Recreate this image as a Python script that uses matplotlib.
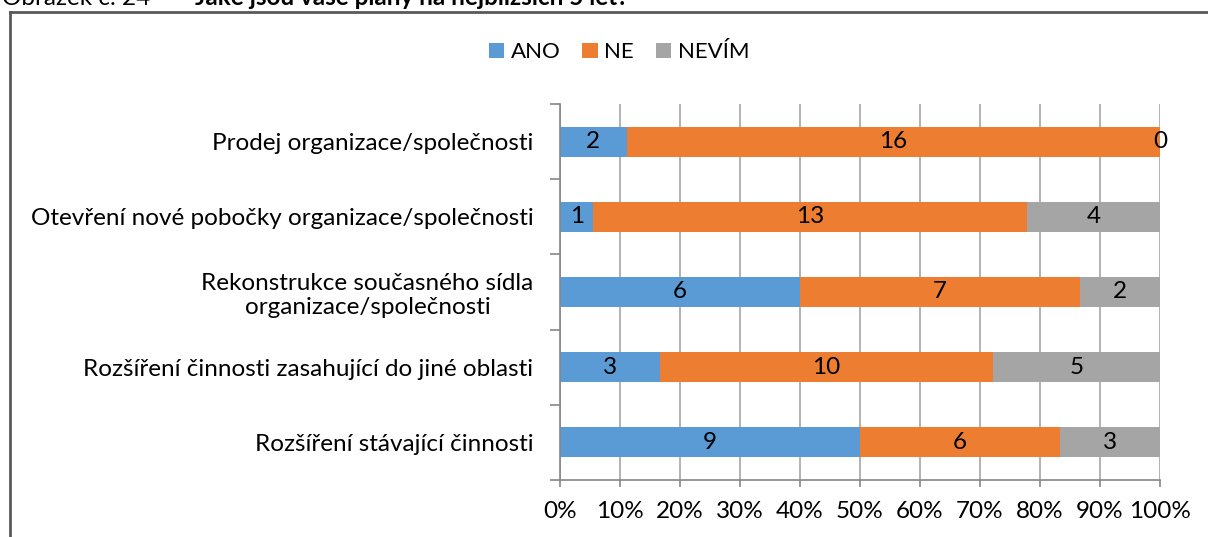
import numpy as np
import matplotlib.pyplot as plt
from matplotlib.lines import Line2D
from matplotlib.patches import Patch

plt.rcParams['font.family'] = ['Lato', 'DejaVu Sans']

kategorie = ["Prodej organizace/společnosti",
             "Otevření nové pobočky organizace/společnosti",
             "Rekonstrukce současného sídla\norganizace/společnosti",
             "Rozšíření činnosti zasahující do jiné oblasti",
             "Rozšíření stávající činnosti"]
ano = [2, 1, 6, 3, 9]
ne = [16, 13, 7, 10, 6]
nevim = [0, 4, 2, 5, 3]
serie = ["ANO", "NE", "NEVÍM"]
barvy = ["#5B9BD5", "#ED7D31", "#A5A5A5"]

W, H = 1208, 537
FS = 17.5
fig = plt.figure(figsize=(W / 100, H / 100), dpi=100)
ax = fig.add_axes([560 / W, 1 - 480 / H, 600 / W, 376 / H])

data = np.array([ano, ne, nevim], dtype=float)
podil = data / data.sum(axis=0)
y = np.arange(len(kategorie))[::-1]

left = np.zeros(len(kategorie))
for i in range(3):
    ax.barh(y, podil[i], left=left, height=0.4, color=barvy[i], zorder=2)
    for j in range(len(kategorie)):
        ax.text(left[j] + podil[i][j] / 2, y[j], str(int(data[i][j])),
                ha='center', va='center', fontsize=FS, color='black', zorder=3)
    left += podil[i]

ax.set_xlim(0, 1)
ax.set_ylim(-0.5, len(kategorie) - 0.5)
ax.set_xticks(np.arange(0, 1.01, 0.1))
ax.set_xticklabels([f"{int(round(t * 100))}%" for t in np.arange(0, 1.01, 0.1)], fontsize=FS)
ax.set_yticks(y)
ax.set_yticklabels(kategorie, fontsize=FS, linespacing=1.15)
for lbl in ax.get_yticklabels():
    lbl.set_multialignment('center')
ax.set_yticks(np.arange(-0.5, len(kategorie)), minor=True)
ax.tick_params(axis='y', which='major', length=0, pad=19)
ax.tick_params(axis='y', which='minor', length=7, color='#868686', width=1.2)
ax.tick_params(axis='x', length=5, color='#868686', width=1.2, pad=10)
ax.grid(axis='x', color='#A6A6A6', linewidth=1.2, zorder=0)
for s in ['top', 'right']:
    ax.spines[s].set_visible(False)
ax.spines['left'].set_color('#868686')
ax.spines['bottom'].set_color('#868686')
ax.spines['left'].set_linewidth(1.2)
ax.spines['bottom'].set_linewidth(1.2)

handles = [Patch(facecolor=c, edgecolor='none') for c in barvy]
fig.legend(handles, serie, loc='center', bbox_to_anchor=(619 / W, 1 - 52 / H),
           ncol=3, frameon=False, fontsize=16, handlelength=0.68, handleheight=0.68,
           handletextpad=0.3, columnspacing=1.0)

# ramecek grafu, orezany vpravo a dole
fig.add_artist(Line2D([9.5 / W, 9.5 / W], [0, 1 - 11.5 / H], color='#595959', linewidth=2,
                      transform=fig.transFigure))
fig.add_artist(Line2D([9.5 / W, 1], [1 - 11.5 / H, 1 - 11.5 / H], color='#595959', linewidth=2,
                      transform=fig.transFigure))

# popisek obrazku, nahore orezany
fig.text(2 / W, 1 - 5 / H, "Obrázek č. 24", fontsize=FS, va='baseline', ha='left')
fig.text(195 / W, 1 - 5 / H, "Jaké jsou vaše plány na nejbližších 5 let?", fontsize=FS,
         fontweight='bold', va='baseline', ha='left')

fig.savefig("out.png", dpi=100)
